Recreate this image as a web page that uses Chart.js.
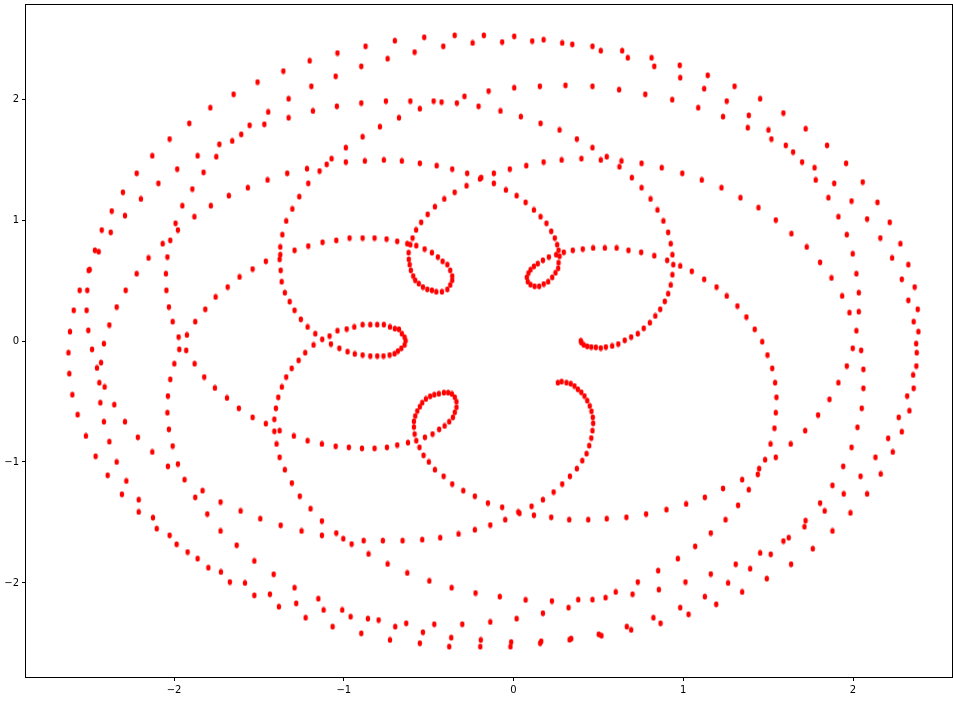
<!DOCTYPE html>
<html>
<head>
<meta charset="utf-8">
<script src="https://cdn.jsdelivr.net/npm/chart.js@4/dist/chart.umd.min.js"></script>
<style>
  html, body { margin: 0; padding: 0; background: #ffffff; }
  #wrap { width: 953px; height: 702px; }
</style>
</head>
<body>
<div id="wrap"><canvas id="c" width="953" height="702"></canvas></div>
<script>
// Sampled trajectory points, [x, y], grouped by area of the plane.
const upperFarLeft = [
  [-1.508,2.140],[-1.649,2.039],[-1.786,1.928],[-1.910,1.799],[-2.026,1.669],[-2.128,1.531],[-2.220,1.386],[-2.301,1.229],[-2.367,1.074],[-2.426,0.917],
  [-1.555,1.783],[-1.604,1.708],[-1.657,1.653],[-1.733,1.626],[-1.751,1.523],[-1.861,1.531],[-1.981,1.421],[-1.826,1.394],[-2.092,1.303],[-2.195,1.174],
  [-2.289,1.036],[-1.892,1.256],[-1.951,1.118],[-1.991,0.973],[-1.977,0.917],[-1.880,1.027],[-1.783,1.118],[-1.677,1.201],[-1.565,1.267]
];
const upperLeft = [
  [-1.356,2.231],[-1.201,2.316],[-1.037,2.380],[-0.872,2.436],[-0.699,2.482],[-0.526,2.510],[-0.347,2.526],[-0.175,2.526],
  [-1.191,2.105],[-1.048,2.188],[-0.897,2.270],[-0.742,2.333],[-0.583,2.388],[-0.414,2.436],[-0.241,2.463],
  [-1.325,2.002],[-1.445,1.893],[-1.468,1.791],[-1.325,1.845],[-1.182,1.901],[-1.041,1.940],[-0.897,1.967],[-0.752,1.983],[-0.608,1.983],
  [-0.471,1.983],[-0.424,1.975],[-0.334,1.967],[-0.289,2.022],[-0.206,1.940],[-0.147,2.066],
  [-0.552,1.920],[-0.675,1.845],[-0.787,1.771],[-0.889,1.688],[-0.988,1.598],[-1.072,1.507],[-1.101,1.460],[-1.143,1.405],[-1.217,1.424],
  [-1.333,1.386],[-1.449,1.331],[-1.209,1.303],[-1.262,1.193],[-1.303,1.091],[-1.339,0.992],
  [-0.988,1.479],[-0.876,1.488],[-0.764,1.496],[-0.658,1.488],[-0.552,1.469],[-0.453,1.449],[-0.361,1.421],[-0.273,1.386],[-0.198,1.339],
  [-0.190,1.350],[-0.277,1.283],[-0.347,1.229],[-0.408,1.174],[-0.463,1.110],[-0.506,1.047],[-0.544,0.981],[-0.574,0.918]
];
const upperRight = [
  [-0.067,2.471],[0.004,2.518],[0.110,2.479],[0.177,2.490],[0.287,2.463],[0.346,2.452],[0.465,2.436],[0.514,2.399],[0.640,2.399],[0.673,2.341],
  [0.813,2.341],[0.829,2.270],[0.979,2.279],[0.982,2.176],[1.144,2.196],[1.123,2.085],
  [0.004,2.093],[0.155,2.105],[0.306,2.113],[0.465,2.105],[0.622,2.077],[0.776,2.039],[0.935,1.994],[1.088,1.928],[1.234,1.854],
  [-0.077,1.901],[0.043,1.854],[0.159,1.799],[0.271,1.744],[0.373,1.669],[0.465,1.598],[0.549,1.523],[0.514,1.496],[0.636,1.488],[0.624,1.440],
  [0.754,1.469],[0.873,1.432],[0.994,1.386],[1.109,1.331],[1.225,1.267],
  [0.400,1.507],[0.283,1.496],[0.177,1.479],[0.075,1.449],[-0.022,1.421],[-0.116,1.386],[-0.116,1.303],[-0.045,1.248],[0.018,1.201],[0.071,1.146],
  [0.120,1.083],[0.159,1.027],[0.194,0.973],
  [0.697,1.350],[0.754,1.267],[0.807,1.174],[0.848,1.083],[0.883,0.992]
];
const upperFarRight = [
  [1.302,2.105],[1.256,1.983],[1.453,2.002],[1.386,1.865],[1.590,1.884],[1.380,1.763],[1.502,1.744],[1.721,1.754],[1.519,1.669],[1.604,1.617],
  [1.847,1.617],[1.647,1.562],[1.700,1.479],[1.959,1.469],[1.773,1.432],[1.780,1.331],[1.889,1.303],[2.057,1.314],[1.337,1.184],[1.443,1.102],
  [1.545,1.000],[1.855,1.184],[1.991,1.157],[2.144,1.146],[1.914,1.027],[2.083,1.008],[2.216,0.981]
];
const middleFarLeft = [
  [-2.373,0.898],[-2.022,0.832],[-2.067,0.804],[-2.466,0.750],[-2.444,0.738],[-2.150,0.686],[-2.039,0.694],[-2.503,0.584],[-2.497,0.590],[-2.220,0.556],
  [-2.048,0.556],[-2.556,0.419],[-2.511,0.419],[-2.285,0.419],[-2.045,0.419],[-2.591,0.254],[-2.515,0.254],[-2.338,0.281],[-2.030,0.281],
  [-2.613,0.077],[-2.505,0.088],[-2.381,0.132],[-2.008,0.160],[-2.622,-0.097],[-2.483,-0.069],[-2.413,-0.022],[-1.973,0.033],[-1.969,-0.069],
  [-1.924,0.050],[-1.928,-0.077],[-1.875,0.160],[-1.816,0.262],[-1.755,0.364],[-1.684,0.446],[-1.614,0.529],[-1.537,0.595],
  [-2.617,-0.270],[-2.454,-0.223],[-2.430,-0.179],[-1.998,-0.188],[-1.879,-0.188],[-2.599,-0.444],[-2.440,-0.345],[-2.409,-0.380],[-2.022,-0.317],
  [-1.822,-0.298],[-2.568,-0.609],[-2.434,-0.510],[-2.352,-0.526],[-2.036,-0.455],[-1.759,-0.388],[-2.519,-0.785],[-2.413,-0.667],[-2.289,-0.667],
  [-2.039,-0.593],[-1.688,-0.471],[-2.381,-0.832],[-2.213,-0.796],[-2.030,-0.730],[-1.618,-0.556],[-1.537,-0.631],[-2.128,-0.917],[-2.008,-0.868]
];
const middleLeft = [
  [-1.362,0.879],[-1.374,0.777],[-1.374,0.713],[-1.378,0.675],[-1.459,0.659],[-1.290,0.750],[-1.209,0.785],[-1.125,0.816],[-1.044,0.832],[-0.966,0.851],
  [-0.889,0.851],[-0.819,0.851],[-0.748,0.843],[-0.685,0.824],[-0.626,0.804],[-0.608,0.796],[-0.595,0.851],[-0.573,0.788],[-0.524,0.760],[-0.481,0.730],
  [-0.446,0.694],[-0.418,0.659],[-0.390,0.631],[-0.373,0.584],[-0.361,0.537],[-0.361,0.502],[-0.373,0.463],[-0.390,0.427],[-0.422,0.407],[-0.455,0.407],
  [-0.481,0.419],[-0.508,0.427],[-0.534,0.446],[-0.558,0.474],[-0.579,0.502],[-0.591,0.537],[-0.605,0.584],[-0.612,0.631],[-0.617,0.675],[-0.618,0.730],
  [-1.372,0.584],[-1.366,0.490],[-1.347,0.399],[-1.319,0.325],[-1.290,0.254],[-1.253,0.179],[-1.213,0.116],[-1.168,0.060],[-1.127,0.014],[-1.084,0.041],
  [-1.037,0.085],[-0.983,0.099],[-0.938,0.116],[-0.889,0.135],[-0.844,0.135],[-0.803,0.135],[-0.764,0.135],[-0.728,0.116],[-0.699,0.102],[-0.675,0.097],
  [-0.658,0.060],[-0.642,0.031],[-0.636,0.002],[-0.642,-0.033],[-0.661,-0.060],[-0.681,-0.083],[-0.701,-0.105],[-0.730,-0.116],[-0.766,-0.124],
  [-0.803,-0.124],[-0.844,-0.124],[-0.889,-0.116],[-0.935,-0.107],[-0.978,-0.088],[-1.026,-0.060],[-1.076,-0.025],[-1.178,-0.033],[-1.227,-0.097],
  [-1.266,-0.160],[-1.307,-0.226],[-1.339,-0.298],[-1.365,-0.380],[-1.386,-0.465],[-1.400,-0.556],[-1.409,-0.647],[-1.459,-0.683],[-1.409,-0.746],
  [-1.378,-0.741],[-1.396,-0.851],[-1.294,-0.785],[-1.213,-0.824],[-1.129,-0.851],[-1.048,-0.870],[-0.970,-0.879],[-0.893,-0.887],[-0.819,-0.887],
  [-0.746,-0.879],[-0.685,-0.860],[-0.622,-0.840],[-0.573,-0.824],[-0.554,-0.879],[-0.522,-0.796],[-0.477,-0.769],[-0.438,-0.730],[-0.406,-0.702],
  [-0.379,-0.667],[-0.357,-0.631],[-0.346,-0.589],[-0.336,-0.548],[-0.336,-0.502],[-0.346,-0.465],[-0.363,-0.438],[-0.385,-0.427],[-0.410,-0.427],
  [-0.440,-0.436],[-0.467,-0.444],[-0.491,-0.457],[-0.516,-0.479],[-0.538,-0.510],[-0.552,-0.543],[-0.567,-0.579],[-0.579,-0.620],[-0.587,-0.664],
  [-0.587,-0.711],[-0.583,-0.769]
];
const middleRight = [
  [0.222,0.907],[0.243,0.851],[0.257,0.796],[0.265,0.750],[0.251,0.713],[0.271,0.700],[0.265,0.647],[0.263,0.601],[0.247,0.564],[0.228,0.526],
  [0.204,0.490],[0.178,0.471],[0.151,0.452],[0.124,0.452],[0.100,0.465],[0.084,0.490],[0.078,0.526],[0.088,0.562],[0.100,0.589],[0.120,0.617],
  [0.143,0.639],[0.173,0.667],[0.208,0.694],[0.296,0.733],[0.349,0.750],[0.408,0.760],[0.469,0.769],[0.538,0.769],[0.607,0.769],[0.677,0.750],
  [0.752,0.733],[0.829,0.705],[0.905,0.667],[0.941,0.631],[0.982,0.620],[1.050,0.576],[1.123,0.510],[1.196,0.446],
  [0.911,0.898],[0.926,0.804],[0.936,0.713],[0.936,0.548],[0.926,0.463],[0.911,0.391],[0.891,0.328],[0.864,0.262],[0.835,0.207],[0.803,0.151],
  [0.767,0.105],[0.732,0.060],[0.693,0.033],[0.655,0.006],[0.617,-0.025],[0.581,-0.041],[0.544,-0.050],[0.514,-0.058],[0.485,-0.052],[0.458,-0.050],
  [0.434,-0.044],[0.414,-0.033],[0.400,-0.014],[0.396,0.002],
  [0.261,-0.345],[0.283,-0.336],[0.312,-0.345],[0.337,-0.353],[0.359,-0.372],[0.379,-0.399],[0.399,-0.424],[0.418,-0.455],[0.434,-0.493],[0.449,-0.537],
  [0.459,-0.581],[0.467,-0.631],[0.469,-0.680],[0.465,-0.741],[0.458,-0.802],[0.446,-0.865]
];
const middleFarRight = [
  [1.637,0.887],[1.727,0.777],[1.806,0.650],[1.873,0.521],[1.936,0.372],[1.979,0.234],[1.256,0.372],[1.319,0.289],[1.372,0.198],[1.421,0.097],
  [1.465,-0.006],[1.496,-0.116],[1.524,-0.226],[1.541,-0.345],[1.549,-0.465],[1.545,-0.593],[1.537,-0.721],[1.514,-0.851],[1.633,-0.851],[1.718,-0.741],
  [1.794,-0.612],[1.861,-0.482],[1.914,-0.345],[1.963,-0.207],[1.998,-0.060],[2.020,0.085],[2.034,0.242],[2.034,0.399],[2.020,0.556],[1.998,0.721],
  [1.963,0.879],[2.048,-0.077],[2.061,-0.234],[2.061,-0.391],[2.051,-0.556],[2.026,-0.713],[1.991,-0.879],[2.161,0.851],[2.230,0.686],[2.287,0.510],
  [2.326,0.336],[2.357,0.160],[2.372,-0.022],[2.373,-0.207],[2.357,-0.391],[2.332,-0.576],[2.287,-0.750],[2.234,-0.917],[2.279,0.804],[2.326,0.631],
  [2.363,0.446],[2.381,0.262],[2.385,0.077],[2.375,-0.097],[2.354,-0.281],[2.319,-0.455],[2.269,-0.631],[2.207,-0.804]
];
const lowerFarLeft = [
  [-2.462,-0.953],[-2.338,-1.000],[-2.391,-1.110],[-2.281,-1.157],[-2.036,-1.036],[-1.977,-1.017],[-2.307,-1.267],[-2.208,-1.312],[-1.938,-1.146],
  [-2.208,-1.413],[-2.124,-1.460],[-1.875,-1.292],[-1.832,-1.237],[-2.102,-1.551],[-2.026,-1.606],[-1.726,-1.331],[-1.804,-1.430],[-1.608,-1.405],
  [-1.985,-1.680],[-1.920,-1.744],[-1.726,-1.570],[-1.861,-1.799],[-1.798,-1.874],[-1.631,-1.688],[-1.724,-1.909],[-1.671,-1.992],[-1.527,-1.818],
  [-1.582,-2.000],[-1.527,-2.102]
];
const lowerLeft = [
  [-1.378,-0.961],[-1.347,-1.064],[-1.306,-1.174],[-1.259,-1.283],[-1.196,-1.386],[-1.129,-1.488],[-1.492,-1.469],[-1.372,-1.523],[-1.249,-1.570],
  [-1.129,-1.606],[-1.044,-1.587],[-1.003,-1.634],[-0.954,-1.678],[-0.883,-1.650],[-0.770,-1.650],[-0.654,-1.650],[-0.538,-1.642],[-0.432,-1.626],
  [-0.324,-1.595],[-0.228,-1.560],[-0.137,-1.521],[-0.854,-1.760],[-0.742,-1.843],[-0.626,-1.917],[-0.496,-1.983],[-0.365,-2.039],[-0.224,-2.083],
  [-0.530,-0.945],[-0.499,-1.000],[-0.463,-1.064],[-0.412,-1.118],[-0.361,-1.182],[-0.296,-1.237],[-0.228,-1.283],[-0.151,-1.339],
  [-1.413,-1.928],[-1.435,-2.093],[-1.382,-2.196],[-1.290,-2.039],[-1.280,-2.168],[-1.225,-2.287],[-1.150,-2.130],[-1.119,-2.223],[-1.066,-2.361],
  [-1.009,-2.223],[-0.960,-2.279],[-0.897,-2.416],[-0.858,-2.295],[-0.795,-2.306],[-0.728,-2.471],[-0.697,-2.361],[-0.632,-2.333],[-0.552,-2.498],
  [-0.534,-2.407],[-0.467,-2.341],[-0.367,-2.452],[-0.379,-2.526],[-0.302,-2.341],[-0.193,-2.471],[-0.196,-2.526],[-0.137,-2.322]
];
const lowerRight = [
  [0.430,-0.931],[0.405,-0.989],[0.373,-1.055],[0.332,-1.118],[0.287,-1.182],[0.236,-1.248],[0.173,-1.312],[0.106,-1.366],[0.120,-1.440],[0.028,-1.413],
  [0.035,-1.424],[-0.067,-1.374],[-0.049,-1.477],[0.222,-1.457],[0.328,-1.477],[0.440,-1.477],[0.549,-1.469],[0.665,-1.457],[0.781,-1.430],[0.901,-1.394],
  [1.017,-1.347],[1.127,-1.292],[1.234,-1.219],[1.162,-1.587],[1.070,-1.697],[0.968,-1.799],[0.852,-1.898],[0.732,-1.992],[0.602,-2.074],[0.465,-2.138],
  [0.381,-2.138],[0.542,-2.121],[0.701,-2.093],[0.856,-2.055],[1.013,-1.992],[1.162,-1.926],[-0.081,-2.113],[0.071,-2.140],[0.226,-2.149],[0.324,-2.204],
  [0.173,-2.250],[0.018,-2.295],[0.667,-2.361],[0.693,-2.388],[0.824,-2.287],[0.866,-2.333],[0.982,-2.204],[1.031,-2.259],[1.127,-2.113],[1.194,-2.176],
  [0.502,-2.424],[0.518,-2.436],[0.330,-2.469],[0.340,-2.460],[0.157,-2.498],[0.163,-2.482],[-0.018,-2.526],[-0.014,-2.488]
];
const lowerFarRight = [
  [1.545,-0.961],[1.482,-0.981],[1.447,-1.055],[1.439,-1.102],[1.347,-1.146],[1.386,-1.229],[1.323,-1.358],[1.249,-1.477],[2.132,-0.961],[1.942,-1.036],
  [2.044,-1.118],[2.163,-1.099],[1.879,-1.193],[1.945,-1.264],[2.083,-1.264],[1.806,-1.339],[1.833,-1.405],[1.985,-1.421],[1.720,-1.485],[1.714,-1.535],
  [1.879,-1.570],[1.590,-1.653],[1.621,-1.626],[1.763,-1.717],[1.453,-1.752],[1.515,-1.763],[1.635,-1.845],[1.309,-1.845],[1.394,-1.882],[1.492,-1.964],
  [1.264,-2.000],[1.347,-2.074]
];

// Axis tick values
const xTickValues = [-2, -1, 0, 1, 2];
const yTickValues = [-2, -1, 0, 1, 2];

const allPoints = [].concat(
  upperFarLeft, upperLeft, upperRight, upperFarRight,
  middleFarLeft, middleLeft, middleRight, middleFarRight,
  lowerFarLeft, lowerLeft, lowerRight, lowerFarRight
).map(p => ({ x: p[0], y: p[1] }));

// Small filled ellipse used as the marker
const dot = document.createElement('canvas');
dot.width = 6; dot.height = 7;
(function () {
  const g = dot.getContext('2d');
  g.fillStyle = '#ff0000';
  g.beginPath();
  g.ellipse(3, 3.5, 2.2, 3.0, 0, 0, Math.PI * 2);
  g.fill();
})();

const minusFmt = v => (v < 0 ? '\u2212' + Math.abs(v) : String(v));

// Full box around the plotting area
const frame = {
  id: 'frame',
  afterDatasetsDraw(chart) {
    const a = chart.chartArea, ctx = chart.ctx;
    ctx.save();
    ctx.strokeStyle = '#000000';
    ctx.lineWidth = 1;
    ctx.strokeRect(Math.round(a.left) - 0.5, Math.round(a.top) - 0.5,
                   Math.round(a.right - a.left) + 1, Math.round(a.bottom - a.top) + 1);
    ctx.restore();
  }
};

const tickFont = { family: 'DejaVu Sans', size: 10 };

new Chart(document.getElementById('c'), {
  type: 'scatter',
  data: {
    datasets: [{
      data: allPoints,
      pointStyle: dot,
      pointRadius: 3,
      pointHoverRadius: 3,
      backgroundColor: '#ff0000',
      borderColor: '#ff0000',
      borderWidth: 0
    }]
  },
  options: {
    responsive: false,
    animation: false,
    devicePixelRatio: 1,
    layout: { autoPadding: false, padding: { top: 5, right: 1, left: 0, bottom: 0 } },
    plugins: { legend: { display: false }, tooltip: { enabled: false } },
    scales: {
      x: {
        type: 'linear',
        min: -2.872,
        max: 2.583,
        afterBuildTicks: s => { s.ticks = xTickValues.map(v => ({ value: v })); },
        afterFit: s => { s.height = 25; s.paddingLeft = 0; s.paddingRight = 0; },
        ticks: { callback: minusFmt, font: tickFont, color: '#000000', padding: 3, maxRotation: 0 },
        grid: { drawOnChartArea: false, drawTicks: true, tickLength: 4, color: '#000000' },
        border: { display: false }
      },
      y: {
        type: 'linear',
        min: -2.777,
        max: 2.777,
        afterBuildTicks: s => { s.ticks = yTickValues.map(v => ({ value: v })); },
        afterFit: s => { s.width = 26; s.paddingTop = 0; s.paddingBottom = 0; },
        ticks: { callback: minusFmt, font: tickFont, color: '#000000', padding: 3 },
        grid: { drawOnChartArea: false, drawTicks: true, tickLength: 4, color: '#000000' },
        border: { display: false }
      }
    }
  },
  plugins: [frame]
});
</script>
</body>
</html>
